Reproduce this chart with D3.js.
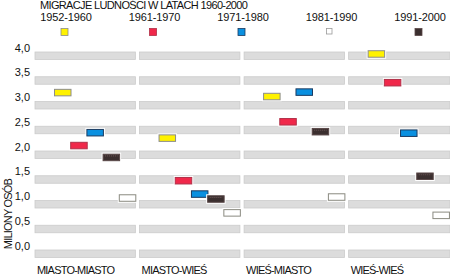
<!DOCTYPE html>
<html>
<head>
<meta charset="utf-8">
<script src="https://d3js.org/d3.v7.min.js"></script>
<style>
  body { margin: 0; background: #fff; }
  text { font-family: "Liberation Sans", Arial, sans-serif; fill: #111; }
</style>
</head>
<body>
<svg width="450" height="275"></svg>
<script>
// data (millions of people)
var categories = ['MIASTO-MIASTO', 'MIASTO-WIEŚ', 'WIEŚ-MIASTO', 'WIEŚ-WIEŚ'];
var periods = ['1952-1960', '1961-1970', '1971-1980', '1981-1990', '1991-2000'];
var v1952 = [3.18, 2.26, 3.10, 3.96];
var v1961 = [2.11, 1.40, 2.59, 3.38];
var v1971 = [2.37, 1.13, 3.19, 2.36];
var v1981 = [1.05, 0.75, 1.07, 0.70];
var v1991 = [1.87, 1.03, 2.39, 1.49];
var yTicks = [0, 0.5, 1, 1.5, 2, 2.5, 3, 3.5, 4];

var series = [v1952, v1961, v1971, v1981, v1991];
var fills = ['#fff200', '#f0284a', '#0a90e0', '#ffffff', '#3b2f2f'];
var strokes = ['#8c8c8c', '#b03048', '#1a3a60', '#8a8a80', '#5a4848'];

var svg = d3.select('svg');

var x = d3.scaleBand().domain(categories).range([35, 449]).paddingInner(0.04);
var y = d3.scaleLinear().domain([0, 4]).range([250, 52]);
// within a panel the white (1981-1990) box sits last
var sx = d3.scalePoint()
  .domain(['1952-1960', '1961-1970', '1971-1980', '1991-2000', '1981-1990'])
  .range([19, 19 + 4 * 16.2]);
var bw = 17.5, bh = 7.5, gh = 7.5;

var pl = d3.formatLocale({ decimal: ',', thousands: ' ', grouping: [3], currency: ['', ''] });
var fmt = pl.format('.1f');

// title and legend
svg.append('text').attr('x', 40).attr('y', 9).style('font-size', '11px')
  .style('letter-spacing', '-0.65px').text('MIGRACJE LUDNOŚCI W LATACH 1960-2000');

var lx = d3.scalePoint().domain(periods).range([66, 420]);
var leg = svg.selectAll('.leg').data(periods).enter().append('g').attr('class', 'leg');
leg.append('text').attr('x', function (d) { return lx(d); }).attr('y', 21)
  .attr('text-anchor', 'middle').style('font-size', '11px').style('letter-spacing', '-0.1px')
  .text(function (d) { return d; });
leg.append('rect')
  .attr('x', function (d) { return lx(d) - 5; }).attr('y', 28.5)
  .attr('width', function (d, i) { return i == 3 ? 5.5 : 7; })
  .attr('height', function (d, i) { return i == 3 ? 5.5 : 7; })
  .attr('fill', function (d, i) { return fills[i]; })
  .attr('stroke', function (d, i) { return i == 3 ? '#999' : strokes[i]; })
  .attr('stroke-width', 0.8);

// gray bands behind every tick, one per panel
categories.forEach(function (c, ci) {
  var w = ci == categories.length - 1 ? 450 - x(c) : x.bandwidth();
  svg.append('g').selectAll('rect').data(yTicks).enter().append('rect')
    .attr('x', x(c)).attr('y', function (d) { return y(d); })
    .attr('width', w).attr('height', gh)
    .attr('fill', '#dcdcdc').attr('stroke', '#cbcbcb').attr('stroke-width', 0.8);
});

// y axis labels
var ya = svg.append('g').attr('transform', 'translate(30,-1)')
  .call(d3.axisLeft(y).tickValues(yTicks).tickSize(0).tickFormat(fmt));
ya.select('.domain').remove();
ya.selectAll('text').attr('x', 0).attr('dy', 0).style('font-size', '11px')
  .style('font-family', '"Liberation Sans", Arial, sans-serif').attr('fill', '#111');

svg.append('text').attr('transform', 'translate(12,214) rotate(-90)')
  .attr('text-anchor', 'middle').style('font-size', '11px').style('letter-spacing', '-0.8px')
  .text('MILIONY OSÓB');

// category labels
svg.selectAll('.cat').data(categories).enter().append('text').attr('class', 'cat')
  .attr('x', function (d) { return x(d) + 2; }).attr('y', 274)
  .style('font-size', '11px').style('letter-spacing', '-0.8px')
  .text(function (d) { return d; });

// bars
series.forEach(function (vals, si) {
  var g = svg.append('g');
  var p = periods[si];
  var pts = vals.map(function (v, ci) { return { c: categories[ci], v: v }; });
  g.selectAll('.halo').data(pts).enter().append('rect')
    .attr('x', function (d) { return x(d.c) + sx(p) - 1; })
    .attr('y', function (d) { return y(d.v) - bh / 2 - 1; })
    .attr('width', bw + 2).attr('height', bh + 2).attr('fill', '#fff');
  g.selectAll('.bar').data(pts).enter().append('rect')
    .attr('x', function (d) { return x(d.c) + sx(p) + 0.5; })
    .attr('y', function (d) { return y(d.v) - bh / 2 + 0.5; })
    .attr('width', bw - 1).attr('height', bh - 1)
    .attr('fill', fills[si]).attr('stroke', strokes[si]).attr('stroke-width', 1);
  if (si == 4) {
    g.selectAll('.dots').data(pts).enter().append('line')
      .attr('x1', function (d) { return x(d.c) + sx(p) + 2.5; })
      .attr('x2', function (d) { return x(d.c) + sx(p) + bw - 2.5; })
      .attr('y1', function (d) { return y(d.v) - 1.5; })
      .attr('y2', function (d) { return y(d.v) - 1.5; })
      .attr('stroke', '#7a6262').attr('stroke-width', 0.8).attr('stroke-dasharray', '1,1');
  }
});
</script>
</body>
</html>
